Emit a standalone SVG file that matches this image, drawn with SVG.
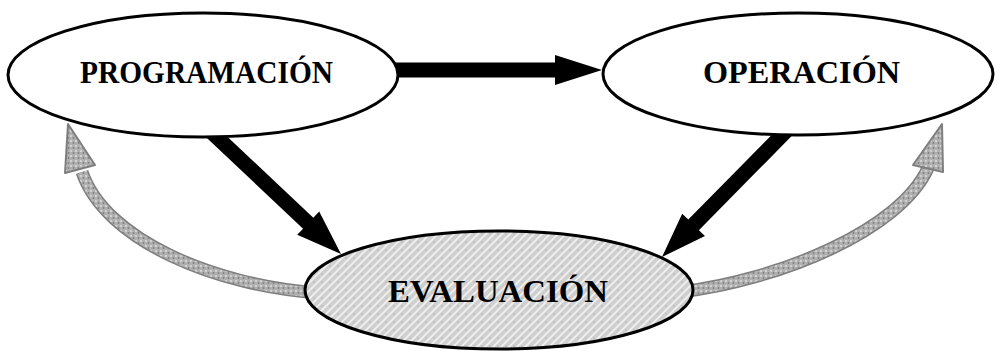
<svg xmlns="http://www.w3.org/2000/svg" width="995" height="351" viewBox="0 0 995 351">
  <defs>
    <style>
      .node { stroke: #000; stroke-width: 3; }
      .plain { fill: #fff; }
      .label { font-family: "Liberation Serif", "Times New Roman", serif; font-weight: bold; font-size: 32px; fill: #000; }
      .solid { fill: #000; }
      .feedback-edge { fill: none; stroke: #7e7e7e; stroke-width: 13; }
      .feedback-core { fill: none; stroke: url(#speckle); stroke-width: 10; }
      .feedback-head { fill: url(#speckle); stroke: #7e7e7e; stroke-width: 2; stroke-linejoin: round; }
    </style>
    <!-- mottled light grey used inside the evaluation node -->
    <pattern id="mottle" width="8" height="8" patternUnits="userSpaceOnUse">
      <rect width="8" height="8" fill="#d0d0d0"/>
      <path d="M0,8 L8,0 M-2,2 L2,-2 M6,10 L10,6" stroke="#f2f2f2" stroke-width="1.6"/>
      <circle cx="2" cy="2" r="0.8" fill="#b8b8b8"/>
    </pattern>
    <!-- speckled grey for the return arrows -->
    <pattern id="speckle" width="5" height="5" patternUnits="userSpaceOnUse">
      <rect width="5" height="5" fill="#b0b0b0"/>
      <circle cx="1" cy="1" r="0.9" fill="#e0e0e0"/>
      <circle cx="3.5" cy="3" r="0.9" fill="#808080"/>
    </pattern>
  </defs>

  <rect width="995" height="351" fill="#fff"/>

  <g id="connectors">
    <!-- return arrows from evaluation back to the upper nodes -->
    <path class="feedback-edge" d="M320,293 C215,286 105,240 82,172"/>
    <path class="feedback-core" d="M320,293 C215,286 105,240 82,172"/>
    <polygon class="feedback-head" points="68,124 95,165 65,173"/>

    <path class="feedback-edge" d="M680,292 C780,280 900,230 928,168"/>
    <path class="feedback-core" d="M680,292 C780,280 900,230 928,168"/>
    <polygon class="feedback-head" points="942,124 943,172 913,165"/>

    <!-- programación -> operación -->
    <polygon class="solid" points="392,62.5 555,62.5 555,55 602,70 555,85 555,77.5 392,77.5"/>
    <!-- programación -> evaluación -->
    <polygon class="solid" points="209.1,119.5 313.3,217.7 319.2,211.6 341,254 297.2,234.8 303.1,228.7 198.9,130.5"/>
    <!-- operación -> evaluación -->
    <polygon class="solid" points="786.7,119.7 688.3,219.6 682.2,213.7 662,257 705,236.1 698.9,230.2 797.3,130.3"/>
  </g>

  <g id="programacion">
    <ellipse class="node plain" cx="203" cy="75" rx="195" ry="62"/>
    <text class="label" x="80" y="83" textLength="253" lengthAdjust="spacingAndGlyphs">PROGRAMACIÓN</text>
  </g>

  <g id="operacion">
    <ellipse class="node plain" cx="798" cy="74" rx="195" ry="61"/>
    <text class="label" x="703" y="83" textLength="197" lengthAdjust="spacingAndGlyphs">OPERACIÓN</text>
  </g>

  <g id="evaluacion">
    <ellipse class="node" fill="url(#mottle)" cx="499" cy="290" rx="194" ry="59"/>
    <text class="label" x="388" y="302" textLength="220" lengthAdjust="spacingAndGlyphs">EVALUACIÓN</text>
  </g>
</svg>
